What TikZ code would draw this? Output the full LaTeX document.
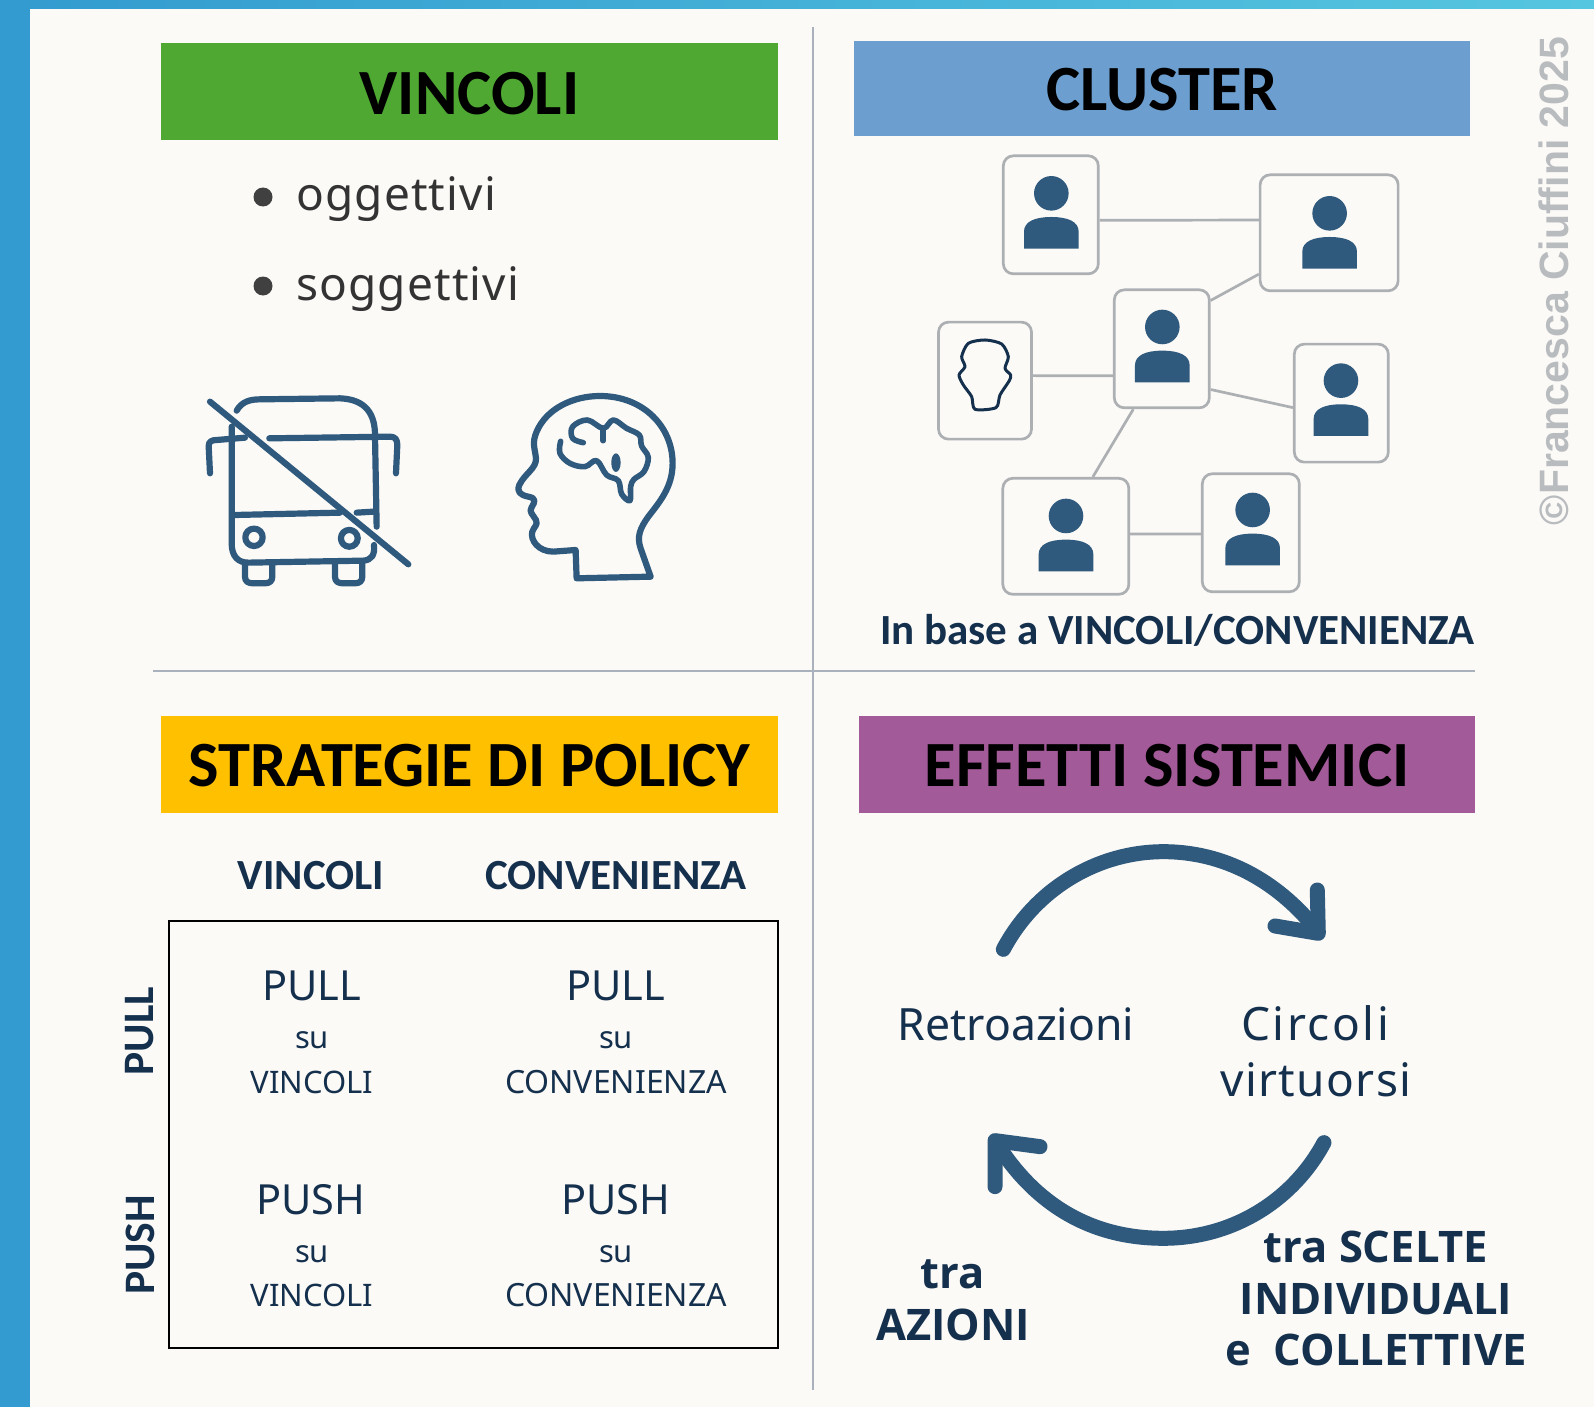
\documentclass[tikz,border=0pt]{standalone}
\usepackage{fontspec}
\setmainfont{Noto Sans}
\newfontfamily\titfont{Carlito}
\newfontfamily\wmfont{Liberation Sans}
\newfontfamily\boldfont{Open Sans}
\newfontfamily\spacedA{Noto Sans}[LetterSpace=2.5]
\newfontfamily\spacedB{Noto Sans}[LetterSpace=5.5]
\newfontfamily\spacedC{Noto Sans}[LetterSpace=3]
\definecolor{pagebg}{HTML}{FCFAF7}
\definecolor{bandA}{HTML}{339BCF}
\definecolor{bandB}{HTML}{55C6E0}
\definecolor{gGreen}{HTML}{4FA832}
\definecolor{gBlue}{HTML}{6C9FCF}
\definecolor{gYellow}{HTML}{FFC000}
\definecolor{gPurple}{HTML}{A25A98}
\definecolor{ink}{HTML}{2F5A7D}
\definecolor{navy}{HTML}{14304D}
\definecolor{rulecol}{HTML}{A9B1BC}
\definecolor{boxline}{HTML}{ADB0B3}
\definecolor{wmgray}{HTML}{B9BCBF}
\tikzset{
 titlebox/.style={fill=#1,draw=none,inner sep=0pt,text=black,text depth=0pt,font=\titfont\bfseries\fontsize{64.5}{64.5}\selectfont,anchor=center},
 txt/.style={inner sep=0pt,anchor=base,text=navy},
 head2/.style={txt,font=\titfont\bfseries\fontsize{43}{43}\selectfont},
 bigtxt/.style={txt,font=\fontsize{41.5}{41.5}\selectfont},
 midtxt/.style={txt,font=\fontsize{31}{31}\selectfont},
 widetxt/.style={txt,font=\fontsize{32}{32}\selectfont},
 boldtxt/.style={txt,font=\boldfont\bfseries\fontsize{43.5}{43.5}\selectfont},
 icon/.style={draw=ink,line width=6.2pt,line cap=round,line join=round},
 personbox/.style={draw=boxline,line width=2.7pt,rounded corners=10pt,fill=pagebg,inner sep=0pt},
 link/.style={draw=boxline,line width=2.7pt},
 flow/.style={draw=ink,line width=15pt,line cap=round,line join=round},
}
\newcommand{\personfig}[2]{%
 \fill[ink] (#1,#2) circle[radius=17.3pt];
 \fill[ink] (#1-82,#2+166) -- (#1-82,#2+115) .. controls (#1-82,#2+85) and (#1-50,#2+71) .. (#1,#2+71) .. controls (#1+50,#2+71) and (#1+82,#2+85) .. (#1+82,#2+115) -- (#1+82,#2+166) -- cycle;
}
\begin{document}
\begin{tikzpicture}[x=1pt,y=-1pt]
\useasboundingbox (0,0) rectangle (1594,1407);
\fill[pagebg] (0,0) rectangle (1594,1407);
\shade[left color=bandA,right color=bandB] (0,0) rectangle (1594,9);
\fill[bandA] (0,0) rectangle (30,1407);
% rules
\coordinate (vt) at (813,27); \coordinate (vb) at (813,1390);
\coordinate (hl) at (153,671); \coordinate (hr) at (1475,671);
\draw[rulecol,line width=1.8pt] (vt) -- (vb);
\draw[rulecol,line width=1.8pt] (hl) -- (hr);
% titles
\node[titlebox=gGreen,text height=46pt,minimum width=617pt,minimum height=97pt] (t1) at (469.5,91.5) {VINCOLI};
\node[titlebox=gBlue,text height=44pt,minimum width=616pt,minimum height=95pt] (t2) at (1162,88.5) {CLUSTER};
\node[titlebox=gYellow,text height=44pt,minimum width=617pt,minimum height=97pt] (t3) at (469.5,764.5) {STRATEGIE DI POLICY};
\node[titlebox=gPurple,text height=44pt,minimum width=616pt,minimum height=97pt] (t4) at (1167,764.5) {EFFETTI SISTEMICI};
% vincoli
\fill[black!75] (263,197) circle[radius=9.5pt];
\fill[black!75] (263,286) circle[radius=9.5pt];
\node[txt,anchor=base west,text=black!80,font=\spacedA\fontsize{46}{46}\selectfont] (v1) at (296,211) {oggettivi};
\node[txt,anchor=base west,text=black!80,font=\spacedA\fontsize{46}{46}\selectfont] (v2) at (296,300) {soggettivi};
\begin{scope}[shift={(180,370)},x=0.3333pt,y=-0.3333pt]
 % bus
 \draw[icon] (170,122) .. controls (185,95) and (210,88) .. (240,88) -- (480,85) .. controls (560,88) and (585,135) .. (585,195) -- (590,470);
 \draw[icon] (155,170) -- (155,520) .. controls (155,560) and (175,578) .. (205,578) -- (550,572) .. controls (575,570) and (585,555) .. (582,525);
 \draw[icon] (268,205) -- (630,200) .. controls (645,200) and (652,208) .. (652,225) -- (648,310);
 \draw[icon] (90,310) -- (86,228) .. controls (86,215) and (95,210) .. (110,210) -- (195,203);
 \draw[icon] (165,435) -- (480,428);
 \draw[icon] (530,428) -- (580,425);
 \draw[icon] (222,502) circle[radius=8.7pt];
 \draw[icon] (508,505) circle[radius=8.4pt];
 \draw[icon] (195,585) -- (195,620) .. controls (195,635) and (205,640) .. (220,640) -- (255,640) .. controls (270,640) and (277,632) .. (277,620) -- (277,582);
 \draw[icon] (465,582) -- (465,620) .. controls (465,635) and (475,640) .. (490,640) -- (525,640) .. controls (540,640) and (547,632) .. (547,620) -- (547,580);
 \draw[icon] (90,95) -- (685,583);
 % head
 \draw[icon] (1412,620) -- (1190,625) -- (1187,540) -- (1120,545)
  .. controls (1075,545) and (1050,510) .. (1057,485)
  .. controls (1062,470) and (1075,465) .. (1068,450)
  .. controls (1060,435) and (1045,425) .. (1055,412)
  .. controls (1065,395) and (1070,385) .. (1045,380)
  .. controls (1020,375) and (1010,365) .. (1018,345)
  .. controls (1035,310) and (1070,295) .. (1068,265)
  .. controls (1065,235) and (1055,220) .. (1070,185)
  .. controls (1100,115) and (1180,78) .. (1260,78)
  .. controls (1390,78) and (1478,170) .. (1478,280)
  .. controls (1478,350) and (1440,395) .. (1405,440)
  .. controls (1380,475) and (1370,500) .. (1382,535) -- (1412,620);
 % brain
 \draw[icon,line width=5.6pt] plot[smooth,tension=0.6] coordinates {(1210,218) (1178,205) (1178,170) (1222,150) (1270,175) (1300,150) (1340,175) (1378,195) (1385,228) (1405,262) (1392,305) (1362,328) (1352,350) (1350,392) (1325,372) (1315,332) (1280,315) (1250,272) (1215,290) (1170,280) (1140,250) (1142,214)};
 \draw[icon,line width=5.6pt] (1270,175) -- (1270,212);
 \fill[ink] (1308,278) ellipse[x radius=4.7pt,y radius=9.3pt];
\end{scope}
% cluster
\begin{scope}[shift={(920,140)},x=0.3333pt,y=-0.3333pt]
 \node[personbox,minimum width=95pt,minimum height=118pt] (a) at (392.5,224.5) {};
 \node[personbox,minimum width=138pt,minimum height=116pt] (b) at (1227.5,278.5) {};
 \node[personbox,minimum width=95pt,minimum height=118pt] (c) at (725.5,626.5) {};
 \node[personbox,minimum width=93pt,minimum height=117pt] (d) at (195,722) {};
 \node[personbox,minimum width=94pt,minimum height=118pt] (e) at (1264,789.5) {};
 \node[personbox,minimum width=126pt,minimum height=116pt] (f) at (437.5,1189) {};
 \node[personbox,minimum width=97pt,minimum height=118pt] (g) at (992.5,1178.5) {};
 \draw[link] ([yshift=-5.5pt]a.east) -- ([yshift=12.8pt]b.west);
 \draw[link] ([yshift=-12pt]c.north east) -- ([yshift=18pt]b.south west);
 \draw[link] ([yshift=5pt]d.east) -- ([yshift=-27pt]c.west);
 \draw[link] ([yshift=-40.7pt]c.east) -- ([yshift=-4.5pt]e.west);
 \draw[link] ([xshift=-28.5pt]c.south) -- ([xshift=27pt]f.north);
 \draw[link] ([yshift=2.3pt]f.east) -- ([yshift=-1.2pt]g.west);
 \personfig{394}{160}
 \personfig{1229}{220}
 \personfig{727}{561}
 \personfig{1263}{722}
 \personfig{438}{1128}
 \personfig{998}{1110}
 \draw[draw=navy,line width=3pt,line join=round] plot[smooth cycle,tension=0.45] coordinates {(165,808) (228,803) (240,765) (268,722) (272,705) (255,685) (265,650) (245,612) (195,600) (145,610) (125,650) (135,680) (117,705) (130,735) (155,770)};
\end{scope}
\node[head2,anchor=base west] (c1) at (880,644) {In base a VINCOLI/CONVENIENZA};
% strategie
\node[head2] (h1) at (311,889) {VINCOLI};
\node[head2] (h2) at (616,889) {CONVENIENZA};
\draw[black,line width=1.9pt] (169,921) rectangle (778,1348);
\node[head2,rotate=90,anchor=center,font=\titfont\bfseries\fontsize{43.5}{43.5}\selectfont] (r1) at (140,1031) {PULL};
\node[head2,rotate=90,anchor=center,font=\titfont\bfseries\fontsize{43.5}{43.5}\selectfont] (r2) at (140,1245) {PUSH};
\node[bigtxt] (p1) at (312,1000) {PULL};
\node[midtxt] (p2) at (312,1048) {su};
\node[midtxt] (p3) at (312,1093) {VINCOLI};
\node[bigtxt] (q1) at (616,1000) {PULL};
\node[midtxt] (q2) at (616,1048) {su};
\node[widetxt] (q3) at (616,1093) {CONVENIENZA};
\node[bigtxt] (s1) at (311,1214) {PUSH};
\node[midtxt] (s2) at (312,1262) {su};
\node[midtxt] (s3) at (312,1306) {VINCOLI};
\node[bigtxt] (u1) at (616,1214) {PUSH};
\node[midtxt] (u2) at (616,1262) {su};
\node[widetxt] (u3) at (616,1306) {CONVENIENZA};
% effetti
\begin{scope}[shift={(960,830)},x=0.3333pt,y=-0.3333pt]
 \draw[flow] (130,358) .. controls (230,170) and (420,65) .. (610,65) .. controls (790,65) and (950,150) .. (1070,300);
 \draw[flow] (1072,180) -- (1075,310) -- (945,288);
 \draw[flow] (1092,938) .. controls (1000,1110) and (820,1225) .. (610,1225) .. controls (400,1225) and (230,1130) .. (110,940);
 \draw[flow] (105,1070) -- (105,932) -- (240,950);
\end{scope}
\node[txt,font=\fontsize{44.5}{44.5}\selectfont] (e1) at (1016,1040) {Retroazioni};
\node[txt,font=\spacedB\fontsize{46}{46}\selectfont] (e2) at (1315,1040) {Circoli};
\node[txt,font=\spacedC\fontsize{46}{46}\selectfont] (e3) at (1316,1096) {virtuorsi};
\node[boldtxt] (e4) at (953,1288) {tra};
\node[boldtxt] (e5) at (953,1340) {AZIONI};
\node[boldtxt] (e6) at (1376,1262) {tra SCELTE};
\node[boldtxt] (e7) at (1376,1314) {INDIVIDUALI};
\node[boldtxt] (e8) at (1376,1365) {e\ \ COLLETTIVE};
% watermark
\node[inner sep=0pt,rotate=90,anchor=center,text=wmgray,font=\wmfont\bfseries\fontsize{41}{41}\selectfont] (w) at (1554,281) {©Francesca Ciuffini 2025};
\end{tikzpicture}
\end{document}
